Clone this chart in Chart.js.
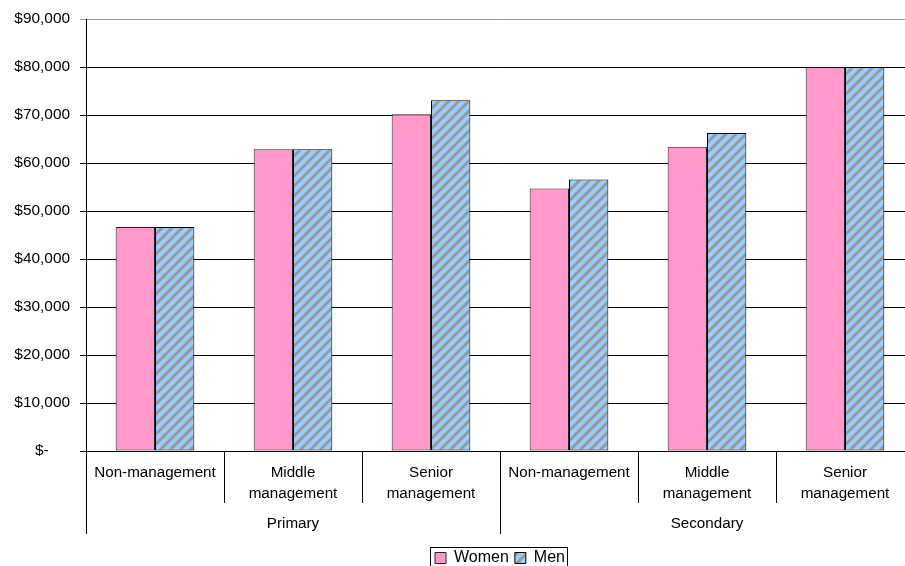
<!DOCTYPE html>
<html lang="en">
<head>
    <meta charset="UTF-8">
    <title>Salaries by level and sector</title>
    <script src="https://cdn.jsdelivr.net/npm/chart.js"></script>
    <style>
        html, body {
            margin: 0;
            padding: 0;
            overflow: hidden;
            background: #fff;
        }
        #wrap {
            position: relative;
            width: 1000px;
            height: 576px;
        }
    </style>
</head>
<body>
    <div id="wrap">
        <canvas id="salaryChart" width="1000" height="576"></canvas>
    </div>
    <script>
        // chart data
        const levels = [
            'Non-management', ['Middle', 'management'], ['Senior', 'management'],
            'Non-management', ['Middle', 'management'], ['Senior', 'management']
        ];
        const sectors = ['Primary', 'Secondary'];
        const women = [46700, 62900, 70200, 54700, 63400, 80000];
        const men = [46700, 62900, 73100, 56600, 66300, 80000];

        // light blue with grey diagonal stripes
        function makeHatch() {
            const c = document.createElement('canvas');
            c.width = 10;
            c.height = 10;
            const g = c.getContext('2d');
            g.fillStyle = '#99ccff';
            g.fillRect(0, 0, 10, 10);
            g.strokeStyle = '#999999';
            g.lineWidth = 3;
            g.beginPath();
            g.moveTo(-2, 12); g.lineTo(12, -2);
            g.moveTo(-7, 7); g.lineTo(7, -7);
            g.moveTo(3, 17); g.lineTo(17, 3);
            g.stroke();
            return g.createPattern(c, 'repeat');
        }

        function money(v) {
            if (v === 0) return '$-     ';
            return '$' + v.toLocaleString('en-US');
        }

        // box around the legend items
        const legendFrame = {
            id: 'legendFrame',
            afterDraw(chart) {
                const boxes = chart.legend.legendHitBoxes;
                if (!boxes || !boxes.length) return;
                const first = boxes[0];
                const last = boxes[boxes.length - 1];
                const ctx = chart.ctx;
                ctx.save();
                ctx.strokeStyle = '#000';
                ctx.lineWidth = 1;
                ctx.strokeRect(first.left - 4.5, first.top - 2.5,
                    last.left + last.width - first.left + 7, first.height + 8);
                ctx.restore();
            }
        };

        Chart.defaults.font.family = '"Liberation Sans", Arial, sans-serif';
        Chart.defaults.font.size = 15;
        Chart.defaults.color = '#000';

        const ctx = document.getElementById('salaryChart').getContext('2d');
        new Chart(ctx, {
            type: 'bar',
            data: {
                labels: levels,
                datasets: [{
                    label: 'Women',
                    data: women,
                    backgroundColor: '#ff99cc',
                    borderColor: '#222',
                    borderWidth: 1,
                    borderSkipped: false
                }, {
                    label: 'Men',
                    data: men,
                    backgroundColor: makeHatch(),
                    borderColor: '#000',
                    borderWidth: 1,
                    borderSkipped: false
                }]
            },
            options: {
                responsive: false,
                animation: false,
                categoryPercentage: 0.57,
                barPercentage: 1.0,
                layout: {
                    padding: { top: 18, right: 0, left: 0, bottom: 0 }
                },
                plugins: {
                    tooltip: { enabled: false },
                    legend: {
                        position: 'bottom',
                        labels: {
                            boxWidth: 11,
                            boxHeight: 11,
                            padding: 6,
                            font: { size: 16 }
                        }
                    }
                },
                scales: {
                    y: {
                        min: 0,
                        max: 90000,
                        afterFit(scale) { scale.width = 86; },
                        ticks: {
                            stepSize: 10000,
                            padding: 10,
                            font: { size: 15.4 },
                            callback: v => money(v)
                        },
                        grid: {
                            color: c => c.tick && c.tick.value === 90000 ? '#999' : '#000',
                            tickLength: 6,
                            lineWidth: 1
                        },
                        border: { color: '#000' }
                    },
                    // empty right-hand axis: keeps the plot ending at the same place as the original, off the visible page
                    yRight: {
                        position: 'right',
                        min: 0,
                        max: 90000,
                        afterFit(scale) { scale.width = 86; },
                        ticks: { display: false },
                        grid: { display: false },
                        border: { display: false }
                    },
                    x: {
                        afterFit(scale) { scale.height = 52; },
                        ticks: {
                            padding: -40,
                            maxRotation: 0,
                            autoSkip: false,
                            font: { size: 15.2, lineHeight: 1.33 }
                        },
                        grid: {
                            drawOnChartArea: false,
                            offset: true,
                            tickLength: 52,
                            color: '#000'
                        },
                        border: { color: '#000' }
                    },
                    x2: {
                        type: 'category',
                        position: 'bottom',
                        labels: sectors,
                        offset: true,
                        afterFit(scale) { scale.height = 41; },
                        ticks: {
                            padding: -20,
                            maxRotation: 0,
                            font: { size: 15.2, lineHeight: 1.33 }
                        },
                        grid: {
                            drawOnChartArea: false,
                            offset: true,
                            tickLength: 31,
                            color: '#000'
                        },
                        border: { display: false }
                    }
                }
            },
            plugins: [legendFrame]
        });
    </script>
</body>
</html>
